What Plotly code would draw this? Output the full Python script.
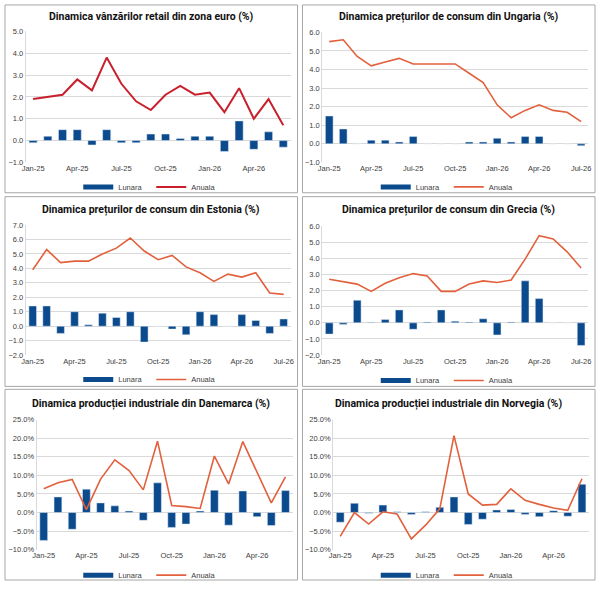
import plotly.graph_objects as go

# month labels
MONTHS_18 = ["Jan-25", "Feb-25", "Mar-25", "Apr-25", "May-25", "Jun-25",
             "Jul-25", "Aug-25", "Sep-25", "Oct-25", "Nov-25", "Dec-25",
             "Jan-26", "Feb-26", "Mar-26", "Apr-26", "May-26", "Jun-26"]
MONTHS_19 = MONTHS_18 + ["Jul-26"]
TICKS_18 = ["Jan-25", "Apr-25", "Jul-25", "Oct-25", "Jan-26", "Apr-26"]
TICKS_19 = TICKS_18 + ["Jul-26"]

# 1. retail sales euro area
euro_lunara = [-0.1, 0.2, 0.5, 0.5, -0.2, 0.5, -0.1, -0.1, 0.3, 0.3, 0.1, 0.2,
               0.2, -0.5, 0.9, -0.4, 0.4, -0.3]
euro_anuala = [1.9, 2.0, 2.1, 2.8, 2.3, 3.8, 2.6, 1.8, 1.4, 2.1, 2.5, 2.1,
               2.2, 1.3, 2.4, 1.0, 1.9, 0.7]

# 2. CPI Hungary
hu_lunara = [1.5, 0.8, 0.0, 0.2, 0.2, 0.1, 0.4, 0.0, 0.0, 0.0, 0.1, 0.1,
             0.3, 0.1, 0.4, 0.4, 0.0, 0.0, -0.1]
hu_anuala = [5.5, 5.6, 4.7, 4.2, 4.4, 4.6, 4.3, 4.3, 4.3, 4.3, 3.8, 3.3,
             2.1, 1.4, 1.8, 2.1, 1.8, 1.7, 1.2]

# 3. CPI Estonia
ee_lunara = [1.4, 1.4, -0.5, 1.0, 0.1, 0.9, 0.6, 1.0, -1.1, 0.0, -0.2, -0.6,
             1.0, 0.8, 0.0, 0.8, 0.4, -0.5, 0.5]
ee_anuala = [3.9, 5.3, 4.4, 4.5, 4.5, 5.0, 5.4, 6.1, 5.2, 4.6, 4.9, 4.1,
             3.7, 3.1, 3.6, 3.4, 3.7, 2.3, 2.2]

# 4. CPI Greece
gr_lunara = [-0.7, -0.1, 1.4, 0.03, 0.2, 0.8, -0.4, 0.05, 0.8, 0.1, 0.05, 0.25,
             -0.75, 0.05, 2.6, 1.5, 0.0, 0.0, -1.4]
gr_anuala = [2.7, 2.55, 2.4, 1.95, 2.45, 2.8, 3.05, 2.9, 1.95, 1.95, 2.4, 2.6,
             2.5, 2.65, 3.95, 5.4, 5.2, 4.4, 3.4]

# 5. industrial production Denmark (%)
dk_lunara = [-7.5, 4.2, -4.5, 6.3, 2.6, 1.8, 0.4, -2.1, 8.0, -4.0, -3.1, 0.4,
             6.0, -3.4, 5.8, -1.1, -3.5, 5.9]
dk_anuala = [6.4, 8.0, 8.9, 0.8, 9.0, 14.2, 11.3, 6.1, 19.2, 1.9, 1.6, 1.1,
             15.2, 7.7, 19.1, 11.0, 2.6, 9.6]

# 6. industrial production Norway (%)
no_lunara = [-2.6, 2.5, -0.2, 2.0, 0.2, -0.5, 0.2, 1.4, 4.2, -3.2, -1.8, 0.7,
             0.8, -0.5, -1.1, 0.5, -1.0, 7.6]
no_anuala = [-6.4, 0.0, -3.1, 0.2, -0.4, -7.1, -3.4, 1.0, 20.7, 5.0, 2.0, 2.2,
             6.4, 3.3, 2.2, 1.2, 0.6, 9.1]

W, H = 600, 590
BAR_COLOR = "#0b4a8c"
LINE_ORANGE = "#e2603c"
LINE_RED = "#c8202c"
FONT = "Liberation Sans, Arial, sans-serif"
TITLE_FONT = "Roboto, Liberation Sans, sans-serif"
TICK_SIZE = 7.5

# panel settings: (title, months, ticks, lunara, anuala, line colour, yrange, dtick, suffix,
#                  panel box px, plot box px, title y px, legend y px)
panels = [
    ("Dinamica vânzărilor retail din zona euro (%)", MONTHS_18, TICKS_18,
     euro_lunara, euro_anuala, LINE_RED, [-1, 5], 1, "",
     (1, 1, 297, 193), (22, 28, 290, 162), 13, 187),
    ("Dinamica prețurilor de consum din Ungaria (%)", MONTHS_19, TICKS_19,
     hu_lunara, hu_anuala, LINE_ORANGE, [-1, 6], 1, "",
     (302, 1, 598, 193), (322, 29, 591, 162), 13, 187),
    ("Dinamica prețurilor de consum din Estonia (%)", MONTHS_19, TICKS_19,
     ee_lunara, ee_anuala, LINE_ORANGE, [-2, 7], 1, "",
     (1, 197, 297, 391), (22, 226, 290, 359), 210, 384),
    ("Dinamica prețurilor de consum din Grecia (%)", MONTHS_19, TICKS_19,
     gr_lunara, gr_anuala, LINE_ORANGE, [-2, 6], 1, "",
     (302, 197, 598, 391), (322, 227, 591, 359), 210, 385),
    ("Dinamica producției industriale din Danemarca (%)", MONTHS_18, TICKS_18,
     dk_lunara, dk_anuala, LINE_ORANGE, [-10, 25], 5, "%",
     (1, 394, 297, 589), (33, 425, 292, 558), 409, 584),
    ("Dinamica producției industriale din Norvegia (%)", MONTHS_18, TICKS_18,
     no_lunara, no_anuala, LINE_ORANGE, [-10, 25], 5, "%",
     (302, 394, 598, 589), (333, 425, 592, 558), 409, 584),
]


def px_x(v):
    return v / W


def px_y(v):
    return 1 - v / H


fig = go.Figure()
shapes = []
annotations = []
layout = {}

for i, (title, months, ticks, lun, anu, lcol, yr, dt, suf,
        box, plot, ty, ly) in enumerate(panels, start=1):
    sfx = "" if i == 1 else str(i)
    leg = "legend" if i == 1 else "legend%d" % i
    fig.add_trace(go.Bar(
        x=months, y=lun, name="Lunara", marker_color=BAR_COLOR,
        xaxis="x" + sfx, yaxis="y" + sfx, showlegend=False,
    ))
    # legend-only entry so "Lunara" shows a flat wide swatch like the original
    fig.add_trace(go.Scatter(
        x=[None], y=[None], name="Lunara", mode="lines",
        line=dict(color=BAR_COLOR, width=5),
        xaxis="x" + sfx, yaxis="y" + sfx, legend=leg,
    ))
    fig.add_trace(go.Scatter(
        x=months, y=anu, name="Anuala", mode="lines",
        line=dict(color=lcol, width=2 if i == 1 else 1.6),
        xaxis="x" + sfx, yaxis="y" + sfx, legend=leg,
    ))
    layout["xaxis" + sfx] = dict(
        domain=[px_x(plot[0]), px_x(plot[2])],
        anchor="y" + sfx, type="category",
        categoryorder="array", categoryarray=months,
        tickmode="array", tickvals=ticks, ticktext=ticks,
        ticks="", showgrid=False, showline=False,
        tickfont=dict(size=TICK_SIZE, color="#404040", family=FONT),
        fixedrange=True,
    )
    layout["yaxis" + sfx] = dict(
        domain=[px_y(plot[3]), px_y(plot[1])],
        anchor="x" + sfx, range=yr, dtick=dt,
        tickformat=".1f", ticksuffix=suf,
        showgrid=True, gridcolor="#d9d9d9", gridwidth=1,
        zeroline=True, zerolinecolor="#d9d9d9", zerolinewidth=1,
        showline=True, linecolor="#d9d9d9", linewidth=1,
        ticks="", tickfont=dict(size=TICK_SIZE, color="#404040", family=FONT),
        fixedrange=True,
    )
    layout[leg] = dict(
        orientation="h", x=(px_x(box[0]) + px_x(box[2])) / 2, xanchor="center",
        y=px_y(ly), yanchor="middle",
        font=dict(size=TICK_SIZE, color="#404040", family=FONT),
        bgcolor="rgba(0,0,0,0)", itemwidth=30, tracegroupgap=0,
        entrywidth=28, entrywidthmode="pixels",
    )
    shapes.append(dict(
        type="rect", xref="paper", yref="paper",
        x0=px_x(box[0]), x1=px_x(box[2]), y0=px_y(box[3]), y1=px_y(box[1]),
        line=dict(color="#a6a6a6", width=1), fillcolor="rgba(0,0,0,0)",
    ))
    annotations.append(dict(
        text="<b>%s</b>" % title, xref="paper", yref="paper",
        x=(px_x(box[0]) + px_x(box[2])) / 2, y=px_y(ty),
        xanchor="center", yanchor="middle", showarrow=False,
        font=dict(size=10.5, color="#111111", family=TITLE_FONT),
    ))

fig.update_layout(
    width=W, height=H,
    margin=dict(l=0, r=0, t=0, b=0),
    paper_bgcolor="white", plot_bgcolor="white",
    bargap=0.45, showlegend=True,
    shapes=shapes, annotations=annotations,
    **layout,
)

# drop the browser's default page margin so the figure fills the window
fig.write_html("out.html", config={"displayModeBar": False},
               post_script="document.body.style.margin='0';")
